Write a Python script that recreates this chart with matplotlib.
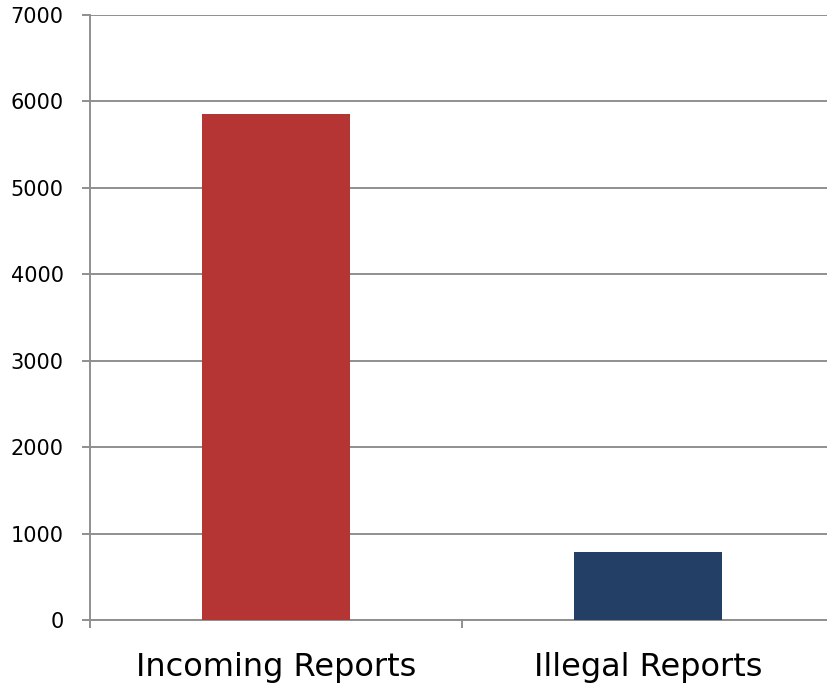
import matplotlib.pyplot as plt
import numpy as np

categories = ['Incoming Reports', 'Illegal Reports']
values = [5850, 790]
colors = ['#B43534', '#243F66']
yticks = [0, 1000, 2000, 3000, 4000, 5000, 6000, 7000]

grid_color = '#8f8f8f'

fig = plt.figure(figsize=(8.27, 6.85), dpi=100)
ax = fig.add_axes([90 / 827, 1 - 620 / 685, 744 / 827, 605 / 685])

x = np.arange(len(categories))
ax.bar(x, values, width=0.4, color=colors, zorder=3)

ax.set_xlim(-0.5, 1.5)
ax.set_ylim(0, 7000)
ax.set_yticks(yticks)
ax.set_yticklabels([str(t) for t in yticks], fontsize=15, family='DejaVu Sans')
ax.yaxis.grid(True, color=grid_color, linewidth=1.4, zorder=0)

# category ticks sit between the bars, labels sit under the bars
ax.set_xticks([-0.5, 0.5, 1.5])
ax.set_xticklabels([])
for xi, name in zip(x, categories):
    ax.text(xi, -0.078, name, transform=ax.get_xaxis_transform(),
            ha='center', va='center', fontsize=23, family='DejaVu Sans')

for side in ['top', 'right']:
    ax.spines[side].set_visible(False)
for side in ['left', 'bottom']:
    ax.spines[side].set_color(grid_color)
    ax.spines[side].set_linewidth(1.4)
ax.tick_params(axis='both', color=grid_color, length=6, width=1.4)
ax.tick_params(axis='y', pad=13)

fig.savefig('out.png', dpi=100)
